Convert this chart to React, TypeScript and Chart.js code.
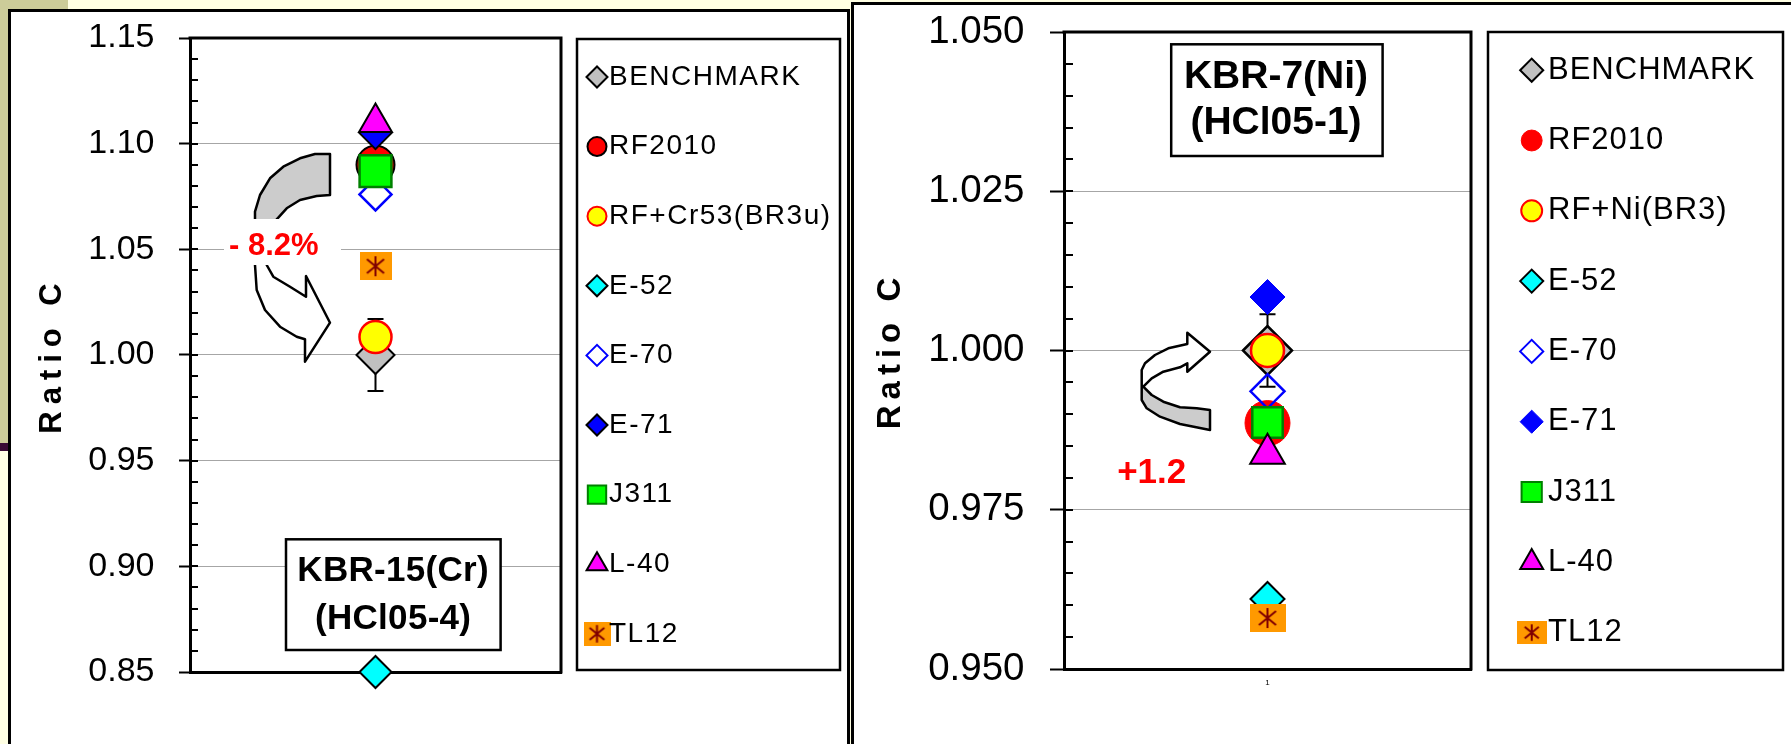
import React, { useEffect, useRef } from 'react';
import { Chart, registerables, PointElement } from 'chart.js';

Chart.register(...registerables);

const FONT = "'Liberation Sans', Arial, Helvetica, sans-serif";

// ---------------- data ----------------
const CATEGORIES = ['1'];

const LEFT_SERIES = ['BENCHMARK', 'RF2010', 'RF+Cr53(BR3u)', 'E-52', 'E-70', 'E-71', 'J311', 'L-40', 'TL12'];
const LEFT_VALUES = [1.0, 1.09, 1.0085, 0.85, 1.076, 1.105, 1.087, 1.11, 1.042];
const LEFT_BENCH_ERROR = 0.017;
const LEFT_MAJOR_TICKS = [0.85, 0.9, 0.95, 1.0, 1.05, 1.1, 1.15];
const LEFT_TITLE = ['KBR-15(Cr)', '(HCl05-4)'];
const LEFT_CHANGE = '- 8.2%';

const RIGHT_SERIES = ['BENCHMARK', 'RF2010', 'RF+Ni(BR3)', 'E-52', 'E-70', 'E-71', 'J311', 'L-40', 'TL12'];
const RIGHT_VALUES = [1.0, 0.9886, 1.0, 0.961, 0.9936, 1.0084, 0.9887, 0.9838, 0.958];
const RIGHT_BENCH_ERROR = 0.0057;
const RIGHT_MAJOR_TICKS = [0.95, 0.975, 1.0, 1.025, 1.05];
const RIGHT_TITLE = ['KBR-7(Ni)', '(HCl05-1)'];
const RIGHT_CHANGE = '+1.2';

const AXIS_TITLE = 'Ratio C';

// ---------------- styles ----------------
const LEFT_STYLES = [
  { style: 'rectRot', bg: '#C0C0C0', border: '#000000', r: 19, bw: 2 },
  { style: 'circle', bg: '#FF0000', border: '#000000', r: 19, bw: 2 },
  { style: 'circle', bg: '#FFFF00', border: '#FF0000', r: 16, bw: 2.5 },
  { style: 'rectRot', bg: '#00FFFF', border: '#000000', r: 16, bw: 2 },
  { style: 'rectRot', bg: 'rgba(0,0,0,0)', border: '#0000FF', r: 16, bw: 2.5 },
  { style: 'rectRot', bg: '#0000FF', border: '#000000', r: 16, bw: 2 },
  { style: 'rect', bg: '#00FF00', border: '#008000', r: 22.5, bw: 2.5 },
  { style: 'triangle', bg: '#FF00FF', border: '#000000', r: 19, bw: 2 },
  { style: 'TL12', bg: '#FF9900', border: '#800000', r: 16, bw: 2 },
];
const RIGHT_STYLES = [
  { style: 'rectRot', bg: '#C0C0C0', border: '#000000', r: 24.5, bw: 2.5 },
  { style: 'circle', bg: '#FF0000', border: '#FF0000', r: 22.5, bw: 1 },
  { style: 'circle', bg: '#FFFF00', border: '#FF0000', r: 16.5, bw: 2.5 },
  { style: 'rectRot', bg: '#00FFFF', border: '#000000', r: 17, bw: 2 },
  { style: 'rectRot', bg: 'rgba(0,0,0,0)', border: '#0000FF', r: 17, bw: 2.5 },
  { style: 'rectRot', bg: '#0000FF', border: '#0000FF', r: 17.5, bw: 1 },
  { style: 'rect', bg: '#00FF00', border: '#008000', r: 21.5, bw: 2.5 },
  { style: 'triangle', bg: '#FF00FF', border: '#000000', r: 20, bw: 2 },
  { style: 'TL12', bg: '#FF9900', border: '#800000', r: 16, bw: 2 },
];

// decoration geometry (relative to chart area top-left)
const LEFT_ARROW = [
  [140, 116], [125, 116], [110, 120.3], [93.3, 128.7], [80, 140.3], [70, 157], [65, 173.7], [65, 181.3],
  [65, 227], [66.7, 252], [75, 272], [90, 288.7], [106.7, 298.7], [115, 301.3], [115, 323.7], [140, 284.7],
  [116, 238], [116, 258.7], [100, 248.7], [83.3, 238.7], [76.7, 227], [78, 205], [86.7, 181.3], [96.7, 170.3],
  [110, 162], [126.7, 158], [140, 157],
];
const RIGHT_ARROW = [
  [123.3, 312], [123.3, 300.7], [146, 319.7], [123.3, 339.7], [123.3, 331.3], [116, 335.3], [99.3, 339.7],
  [87.7, 346.3], [79.3, 354.7], [87.7, 363], [99.3, 369.7], [116, 375.3], [132.7, 376.3], [146, 378],
  [146, 398], [116, 392], [96, 384.7], [82.7, 376.3], [77.7, 368], [77.7, 338], [81, 331.3], [91, 323], [104.3, 316.3],
];

const LEFT_PANEL = {
  series: LEFT_SERIES, values: LEFT_VALUES, err: LEFT_BENCH_ERROR, majors: LEFT_MAJOR_TICKS,
  titleLines: LEFT_TITLE, change: LEFT_CHANGE, styles: LEFT_STYLES,
  min: 0.85, max: 1.15, step: 0.01, decimals: 2,
  W: 837, H: 732, area: { left: 179, top: 26, right: 550, bottom: 660 },
  tickFont: 34, tickLen: 11, tickPad: 24.5, innerTick: 8,
  yTitleFont: 31, yTitleSpacing: 7, yTitlePad: 23,
  showX: false,
  tl12Plot: [32, 28], tl12Legend: [27, 24],
  arrow: LEFT_ARROW, arrowSplit: 204, grayAbove: true,
  changeBox: [34, 181, 117, 46], changeText: { x: 39, y: 208, size: 31, spacing: 0, align: 'left' },
  titleBox: [96, 501.3, 214.6, 110.7], titleText: { x: 203, y1: 533.5, y2: 581.2, size: 35, spacing: 0.3 },
  legend: { box: [566, 27, 263, 631], markerX: 586, textX: 598, y0: 65, dy: 69.6, size: 28, spacing: 1.5, mScale: 1 },
};

const RIGHT_PANEL = {
  series: RIGHT_SERIES, values: RIGHT_VALUES, err: RIGHT_BENCH_ERROR, majors: RIGHT_MAJOR_TICKS,
  titleLines: RIGHT_TITLE, change: RIGHT_CHANGE, styles: RIGHT_STYLES,
  min: 0.95, max: 1.05, step: 0.005, decimals: 3,
  W: 937, H: 739, area: { left: 210, top: 27, right: 617, bottom: 664 },
  tickFont: 38.5, tickLen: 14, tickPad: 25.5, innerTick: 9,
  yTitleFont: 33, yTitleSpacing: 6, yTitlePad: 17,
  showX: true,
  tl12Plot: [36, 28], tl12Legend: [30, 23],
  arrow: RIGHT_ARROW, arrowSplit: 354, grayAbove: false,
  changeBox: null, changeText: { x: 87.7, y: 441.3, size: 35, spacing: 0, align: 'center' },
  titleBox: [107.2, 12.3, 211.4, 111.7], titleText: { x: 212, y1: 45.5, y2: 91.3, size: 39, spacing: 0 },
  legend: { box: [634, 27, 295, 638], markerX: 677.7, textX: 694, y0: 65.2, dy: 70.3, size: 31, spacing: 1, mScale: 1.1 },
};

// ---------------- helpers ----------------
function makeTL12(w: number, h: number) {
  const c = document.createElement('canvas');
  c.width = w;
  c.height = h;
  const g = c.getContext('2d') as CanvasRenderingContext2D;
  g.fillStyle = '#FF9900';
  g.fillRect(0, 0, w, h);
  g.strokeStyle = '#800000';
  g.lineWidth = 2;
  const cx = w / 2, cy = h / 2, s = h * 0.36;
  g.beginPath();
  g.moveTo(cx, cy - s); g.lineTo(cx, cy + s);
  g.moveTo(cx - s * 0.85, cy - s * 0.7); g.lineTo(cx + s * 0.85, cy + s * 0.7);
  g.moveTo(cx - s * 0.85, cy + s * 0.7); g.lineTo(cx + s * 0.85, cy - s * 0.7);
  g.stroke();
  return c;
}

function spacedText(ctx: any, text: string, x: number, y: number, font: string, color: string, spacing: number, align: string) {
  ctx.save();
  ctx.font = font;
  ctx.fillStyle = color;
  ctx.textBaseline = 'middle';
  ctx.textAlign = 'left';
  ctx.letterSpacing = spacing + 'px';
  const w = ctx.measureText(text).width - spacing;
  let x0 = x;
  if (align === 'center') x0 = x - w / 2;
  else if (align === 'right') x0 = x - w;
  ctx.fillText(text, x0, y);
  ctx.restore();
}

function drawRibbon(ctx: any, ox: number, oy: number, pts: number[][], splitY: number, grayAbove: boolean) {
  ctx.save();
  ctx.beginPath();
  pts.forEach(([px, py], i) => (i ? ctx.lineTo(ox + px, oy + py) : ctx.moveTo(ox + px, oy + py)));
  ctx.closePath();
  const g = ctx.createLinearGradient(0, oy + splitY - 0.5, 0, oy + splitY + 0.5);
  const gray = '#CCCCCC', white = '#FFFFFF';
  g.addColorStop(0, grayAbove ? gray : white);
  g.addColorStop(1, grayAbove ? white : gray);
  ctx.fillStyle = g;
  ctx.fill();
  ctx.lineWidth = 2.5;
  ctx.strokeStyle = '#000';
  ctx.lineJoin = 'round';
  ctx.stroke();
  ctx.restore();
}

function isMajor(p: any, v: number) {
  return Math.round((v - p.min) / p.step) % 5 === 0;
}

function buildChart(canvas: HTMLCanvasElement, p: any) {
  const plotImg = makeTL12(p.tl12Plot[0], p.tl12Plot[1]);
  const legendImg = makeTL12(p.tl12Legend[0], p.tl12Legend[1]);
  const n = p.series.length;

  const datasets = p.series.map((label: string, i: number) => {
    const s = p.styles[i];
    return {
      label,
      data: [p.values[i]],
      showLine: false,
      pointStyle: s.style === 'TL12' ? plotImg : s.style,
      pointRadius: s.r,
      pointHoverRadius: s.r,
      pointBackgroundColor: s.bg,
      pointBorderColor: s.border,
      pointBorderWidth: s.bw,
      order: n - i,
      clip: false,
    };
  });

  const decor = {
    id: 'decor',
    beforeDatasetsDraw(chart: any) {
      const ctx = chart.ctx;
      const a = chart.chartArea;
      const xs = chart.scales.x, ys = chart.scales.y;
      // error bar on benchmark
      const cx = xs.getPixelForValue(0);
      const v = p.values[0];
      const yT = ys.getPixelForValue(v + p.err), yB = ys.getPixelForValue(v - p.err);
      ctx.save();
      ctx.strokeStyle = '#000';
      ctx.lineWidth = 2;
      ctx.beginPath();
      ctx.moveTo(cx, yT); ctx.lineTo(cx, yB);
      ctx.moveTo(cx - 8, yT); ctx.lineTo(cx + 8, yT);
      ctx.moveTo(cx - 8, yB); ctx.lineTo(cx + 8, yB);
      ctx.stroke();
      ctx.restore();
      // arrow
      drawRibbon(ctx, a.left, a.top, p.arrow, p.arrowSplit, p.grayAbove);
      // change label
      if (p.changeBox) {
        ctx.save();
        ctx.fillStyle = '#fff';
        ctx.fillRect(a.left + p.changeBox[0], a.top + p.changeBox[1], p.changeBox[2], p.changeBox[3]);
        ctx.restore();
      }
      const ct = p.changeText;
      spacedText(ctx, p.change, a.left + ct.x, a.top + ct.y, `bold ${ct.size}px ${FONT}`, '#FF0000', ct.spacing, ct.align);
      // title box
      const tb = p.titleBox;
      ctx.save();
      ctx.fillStyle = '#fff';
      ctx.fillRect(a.left + tb[0], a.top + tb[1], tb[2], tb[3]);
      ctx.strokeStyle = '#000';
      ctx.lineWidth = 2.5;
      ctx.strokeRect(a.left + tb[0], a.top + tb[1], tb[2], tb[3]);
      ctx.restore();
      const tt = p.titleText;
      spacedText(ctx, p.titleLines[0], a.left + tt.x, a.top + tt.y1, `bold ${tt.size}px ${FONT}`, '#000', tt.spacing, 'center');
      spacedText(ctx, p.titleLines[1], a.left + tt.x, a.top + tt.y2, `bold ${tt.size}px ${FONT}`, '#000', tt.spacing, 'center');
    },
    afterDraw(chart: any) {
      const ctx = chart.ctx;
      const a = chart.chartArea;
      const ys = chart.scales.y;
      ctx.save();
      // top & right frame of plot area
      ctx.strokeStyle = '#000';
      ctx.lineWidth = 3;
      ctx.beginPath();
      ctx.moveTo(a.left - 1.5, a.top);
      ctx.lineTo(a.right, a.top);
      ctx.lineTo(a.right, a.bottom + 1.5);
      ctx.stroke();
      // inner tick marks
      ctx.lineWidth = 2;
      ctx.beginPath();
      ys.ticks.forEach((t: any) => {
        const yy = Math.round(ys.getPixelForValue(t.value));
        ctx.moveTo(a.left, yy);
        ctx.lineTo(a.left + p.innerTick, yy);
      });
      ctx.stroke();
      ctx.restore();

      // legend
      const L = p.legend;
      ctx.save();
      ctx.fillStyle = '#fff';
      ctx.fillRect(L.box[0], L.box[1], L.box[2], L.box[3]);
      ctx.strokeStyle = '#000';
      ctx.lineWidth = 2.5;
      ctx.strokeRect(L.box[0], L.box[1], L.box[2], L.box[3]);
      ctx.restore();
      const legendR: any = { rectRot: 10.5, circle: 9.5, rect: 13, triangle: 12 };
      chart.data.datasets.forEach((ds: any, i: number) => {
        const s = p.styles[i];
        const yy = L.y0 + i * L.dy;
        const el: any = new (PointElement as any)({
          x: L.markerX,
          y: yy,
          options: {
            pointStyle: s.style === 'TL12' ? legendImg : s.style,
            radius: (legendR[s.style] || 10) * L.mScale,
            rotation: 0,
            borderWidth: Math.min(s.bw, 2),
            backgroundColor: s.bg,
            borderColor: s.border,
          },
        });
        ctx.save();
        el.draw(ctx);
        ctx.restore();
        spacedText(ctx, ds.label, L.textX, yy, `${L.size}px ${FONT}`, '#000', L.spacing, 'left');
      });
    },
  };

  const yAfterFit = (scale: any) => {
    scale.width = p.area.left;
    scale.paddingTop = 0;
    scale.paddingBottom = 0;
    if (!scale._spacedPatch) {
      scale._spacedPatch = true;
      const origTitle = scale.drawTitle;
      scale.drawTitle = function (...args: any[]) {
        const c: any = this.ctx;
        c.save();
        c.letterSpacing = p.yTitleSpacing + 'px';
        origTitle.apply(this, args);
        c.restore();
      };
    }
  };

  return new Chart(canvas, {
    type: 'line',
    data: { labels: CATEGORIES, datasets },
    options: {
      responsive: false,
      animation: false,
      devicePixelRatio: 1,
      events: [],
      layout: { padding: { left: 0, top: p.area.top, right: p.W - p.area.right, bottom: 0 } },
      plugins: { legend: { display: false }, tooltip: { enabled: false } },
      scales: {
        x: {
          type: 'category',
          offset: true,
          afterFit: (s: any) => {
            s.height = p.H - p.area.bottom;
            s.paddingLeft = 0;
            s.paddingRight = 0;
          },
          grid: { display: false, drawTicks: false },
          border: { display: true, color: '#000', width: 3 },
          ticks: { display: p.showX, font: { family: FONT, size: 8 }, color: '#000', padding: 9 },
        },
        y: {
          type: 'linear',
          min: p.min,
          max: p.max,
          afterFit: yAfterFit,
          ticks: {
            stepSize: p.step,
            autoSkip: false,
            padding: p.tickPad,
            color: '#000',
            font: { family: FONT, size: p.tickFont },
            callback: (v: any) => {
              const m = p.majors.find((mv: number) => Math.abs(mv - v) < p.step / 10);
              return m === undefined ? '' : m.toFixed(p.decimals);
            },
          },
          grid: {
            drawTicks: true,
            tickLength: p.tickLen,
            tickWidth: 2,
            lineWidth: 1,
            color: (c: any) => {
              const v = c.tick ? c.tick.value : 0;
              const edge = Math.abs(v - p.min) < 1e-9 || Math.abs(v - p.max) < 1e-9;
              return isMajor(p, v) && !edge ? '#A6A6A6' : 'rgba(0,0,0,0)';
            },
            tickColor: (c: any) => {
              const v = c.tick ? c.tick.value : 0;
              return isMajor(p, v) ? '#000' : 'rgba(0,0,0,0)';
            },
          },
          border: { display: true, color: '#000', width: 3 },
          title: {
            display: true,
            text: AXIS_TITLE,
            color: '#000',
            font: { family: FONT, size: p.yTitleFont, weight: 'bold' },
            padding: { top: p.yTitlePad, bottom: 0 },
          },
        },
      },
    },
    plugins: [decor],
  } as any);
}

export default function App() {
  const leftRef = useRef<HTMLCanvasElement>(null);
  const rightRef = useRef<HTMLCanvasElement>(null);

  useEffect(() => {
    document.body.style.margin = '0';
    document.body.style.overflow = 'hidden';
    const c1 = buildChart(leftRef.current as HTMLCanvasElement, LEFT_PANEL);
    const c2 = buildChart(rightRef.current as HTMLCanvasElement, RIGHT_PANEL);
    return () => {
      c1.destroy();
      c2.destroy();
    };
  }, []);

  return (
    <div style={{ position: 'fixed', left: 0, top: 0, width: 1791, height: 744, overflow: 'hidden', background: '#FFFFE3' }}>
      <div style={{ position: 'absolute', left: 0, top: 0, width: 68, height: 9, background: '#CCCC99' }} />
      <div style={{ position: 'absolute', left: 0, top: 0, width: 8, height: 443, background: '#CCCC99' }} />
      <div style={{ position: 'absolute', left: 0, top: 443, width: 8, height: 8, background: '#3A0B35' }} />
      <div style={{ position: 'absolute', left: 8, top: 9, width: 842, height: 800, border: '3px solid #000', boxSizing: 'border-box', background: '#fff' }} />
      <div style={{ position: 'absolute', left: 851, top: 2, width: 1000, height: 800, border: '3px solid #000', boxSizing: 'border-box', background: '#fff' }} />
      <canvas ref={leftRef} width={837} height={732} style={{ position: 'absolute', left: 11, top: 12 }} />
      <canvas ref={rightRef} width={937} height={739} style={{ position: 'absolute', left: 854, top: 5 }} />
    </div>
  );
}
